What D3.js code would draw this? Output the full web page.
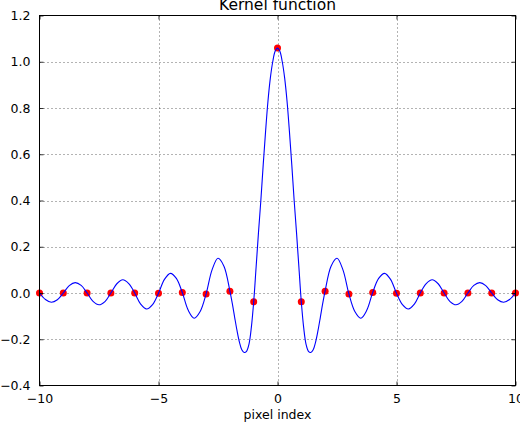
<!DOCTYPE html>
<html>
<head>
<meta charset="utf-8">
<script src="https://cdn.jsdelivr.net/npm/d3@7"></script>
<style>
  html, body { margin: 0; padding: 0; background: #fff; }
  svg { display: block; }
  text { font-family: "DejaVu Sans", sans-serif; fill: #000; }
</style>
</head>
<body>
<svg id="chart" width="520" height="432"></svg>
<script>
// Continuous interpolation kernel, sampled densely around the main lobe
const kernelX = [
  -10, -9.75, -9.5, -9.25, -9, -8.75, -8.5, -8.25, -8, -7.75, -7.5, -7.25,
  -7, -6.75, -6.5, -6.25, -6, -5.75, -5.5, -5.25, -5, -4.75, -4.5, -4.25,
  -4, -3.75, -3.5, -3.25, -3, -2.75, -2.5, -2.25, -2, -1.9, -1.8, -1.7,
  -1.6, -1.5, -1.4, -1.3, -1.2, -1.1, -1, -0.9, -0.8, -0.7, -0.6, -0.5,
  -0.4, -0.3, -0.2, -0.1, 0, 0.1, 0.2, 0.3, 0.4, 0.5, 0.6, 0.7, 0.8, 0.9,
  1, 1.1, 1.2, 1.3, 1.4, 1.5, 1.6, 1.7, 1.8, 1.9, 2, 2.25, 2.5, 2.75,
  3, 3.25, 3.5, 3.75, 4, 4.25, 4.5, 4.75, 5, 5.25, 5.5, 5.75, 6, 6.25,
  6.5, 6.75, 7, 7.25, 7.5, 7.75, 8, 8.25, 8.5, 8.75, 9, 9.25, 9.5, 9.75, 10
];
const kernelY = [
  0.000, -0.028, -0.040, -0.029, 0.000, 0.032, 0.045, 0.033, 0.000, -0.036, -0.051, -0.037,
  0.000, 0.040, 0.057, 0.041, 0.000, -0.048, -0.069, -0.050, -0.001, 0.059, 0.085, 0.063,
  0.002, -0.075, -0.109, -0.080, -0.004, 0.100, 0.150, 0.116, 0.008, -0.045, -0.105, -0.163,
  -0.212, -0.245, -0.257, -0.252, -0.222, -0.150, -0.038, 0.110, 0.260, 0.400, 0.555, 0.700,
  0.830, 0.930, 1.000, 1.045, 1.059, 1.045, 1.000, 0.930, 0.830, 0.700, 0.555, 0.400, 0.260, 0.110,
  -0.038, -0.150, -0.222, -0.252, -0.257, -0.245, -0.212, -0.163, -0.105, -0.045, 0.008, 0.116, 0.150, 0.100,
  -0.004, -0.080, -0.109, -0.075, 0.002, 0.063, 0.085, 0.059, -0.001, -0.050, -0.069, -0.048, 0.000, 0.041,
  0.057, 0.040, 0.000, -0.037, -0.051, -0.036, 0.000, 0.033, 0.045, 0.032, 0.000, -0.029, -0.040, -0.028, 0.000
];

// Kernel values at the integer pixel positions
const pixelIndex = [-10, -9, -8, -7, -6, -5, -4, -3, -2, -1, 0, 1, 2, 3, 4, 5, 6, 7, 8, 9, 10];
const pixelWeight = [0.000, 0.000, 0.000, 0.000, 0.000, -0.001, 0.002, -0.004, 0.008, -0.038, 1.059,
                     -0.038, 0.008, -0.004, 0.002, -0.001, 0.000, 0.000, 0.000, 0.000, 0.000];

const xTicks = [-10, -5, 0, 5, 10];
const yTicks = [-0.4, -0.2, 0.0, 0.2, 0.4, 0.6, 0.8, 1.0, 1.2];

const titleText = "Kernel function";
const xLabelText = "pixel index";

const svg = d3.select("#chart");
const plotLeft = 39.5, plotRight = 515.5, plotTop = 15.5, plotBottom = 385.5;

const x = d3.scaleLinear().domain([-10, 10]).range([plotLeft, plotRight]);
const y = d3.scaleLinear().domain([-0.4, 1.2]).range([plotBottom, plotTop]);

const fmtMinus = s => s.replace("-", "\u2212");
const fmtX = d => fmtMinus(d3.format("d")(d));
const fmtY = d => fmtMinus(d3.format(".1f")(d));

// Dotted grid
const grid = svg.append("g");
grid.selectAll("line.gx").data(xTicks.slice(1, -1)).join("line")
  .attr("x1", d => Math.round(x(d)) + 0.5).attr("x2", d => Math.round(x(d)) + 0.5)
  .attr("y1", plotTop).attr("y2", plotBottom)
  .attr("stroke", "#000").attr("stroke-width", 0.6).attr("stroke-dasharray", "1,3");
grid.selectAll("line.gy").data(yTicks.slice(1, -1)).join("line")
  .attr("y1", d => Math.round(y(d)) + 0.5).attr("y2", d => Math.round(y(d)) + 0.5)
  .attr("x1", plotLeft).attr("x2", plotRight)
  .attr("stroke", "#000").attr("stroke-width", 0.6).attr("stroke-dasharray", "1,3");

// Kernel samples as red dots, then the continuous curve over them
const plot = svg.append("g");
plot.selectAll("circle").data(pixelIndex).join("circle")
  .attr("cx", d => x(d))
  .attr("cy", (d, i) => y(pixelWeight[i]))
  .attr("r", 3.5)
  .attr("fill", "#ff0000");

const line = d3.line()
  .x(d => x(d[0])).y(d => y(d[1]))
  .curve(d3.curveCatmullRom.alpha(0.5));
plot.append("path")
  .datum(kernelX.map((v, i) => [v, kernelY[i]]))
  .attr("d", line)
  .attr("fill", "none")
  .attr("stroke", "#0000ff")
  .attr("stroke-width", 1.1);

// Axes with inward ticks on all four sides
const axBottom = d3.axisBottom(x).tickValues(xTicks).tickFormat(fmtX).tickSizeInner(-4).tickSizeOuter(0).tickPadding(9);
const axTop = d3.axisTop(x).tickValues(xTicks).tickFormat("").tickSizeInner(-4).tickSizeOuter(0);
const axLeft = d3.axisLeft(y).tickValues(yTicks).tickFormat(fmtY).tickSizeInner(-4).tickSizeOuter(0).tickPadding(9);
const axRight = d3.axisRight(y).tickValues(yTicks).tickFormat("").tickSizeInner(-4).tickSizeOuter(0);

function styleAxis(g) {
  g.select(".domain").remove();
  g.selectAll(".tick line").attr("stroke", "#000").attr("stroke-width", 0.8);
  g.selectAll("text").attr("font-family", "DejaVu Sans").attr("font-size", 12.5).attr("fill", "#000");
}
svg.append("g").attr("transform", `translate(0,${plotBottom})`).call(axBottom).call(styleAxis);
svg.append("g").attr("transform", `translate(0,${plotTop})`).call(axTop).call(styleAxis);
svg.append("g").attr("transform", `translate(${plotLeft},0)`).call(axLeft).call(styleAxis);
svg.append("g").attr("transform", `translate(${plotRight},0)`).call(axRight).call(styleAxis);

// Frame
svg.append("rect")
  .attr("x", plotLeft).attr("y", plotTop)
  .attr("width", plotRight - plotLeft).attr("height", plotBottom - plotTop)
  .attr("fill", "none").attr("stroke", "#000").attr("stroke-width", 1);

// Title and axis label
svg.append("text")
  .attr("x", (plotLeft + plotRight) / 2).attr("y", 10)
  .attr("text-anchor", "middle")
  .attr("font-size", 15.5)
  .text(titleText);
svg.append("text")
  .attr("x", (plotLeft + plotRight) / 2).attr("y", 419)
  .attr("text-anchor", "middle")
  .attr("font-size", 12.5)
  .text(xLabelText);
</script>
</body>
</html>
